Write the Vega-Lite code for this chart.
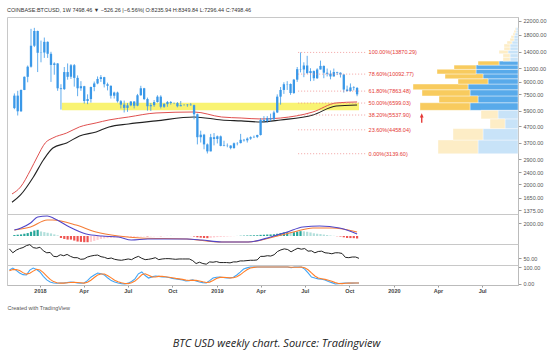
{
  "$schema": "https://vega.github.io/schema/vega-lite/v6.json",
  "padding": {"left": 6, "top": 7, "right": 4, "bottom": 4},
  "background": "white",
  "spacing": 0,
  "bounds": "flush",
  "config": {
    "view": {"stroke": "#c8c8c8", "strokeWidth": 1},
    "font": "Liberation Sans",
    "axis": {"labelFont": "Liberation Sans", "labelFontSize": 5.5, "labelColor": "#555", "tickColor": "#999", "tickSize": 3, "domainColor": "#bbb", "grid": false, "labelPadding": 2}
  },
  "title": {"text": "BTC USD weekly chart. Source: Tradingview", "orient": "bottom", "anchor": "middle", "font": "Open Sans", "fontSize": 11, "fontStyle": "italic", "fontWeight": "normal", "color": "#222", "offset": 26},
  "datasets": {
    "w": [
      {"d":"2017-10-30","o":6130,"h":7600,"l":6030,"c":7360,"mh":150,"mk":"g","rsi":78,"k":82,"dk":78},
      {"d":"2017-11-06","o":7360,"h":7900,"l":5500,"c":5850,"mh":200,"mk":"g","rsi":66,"k":94,"dk":85},
      {"d":"2017-11-13","o":5850,"h":8050,"l":5800,"c":8000,"mh":250,"mk":"g","rsi":74,"k":80,"dk":85},
      {"d":"2017-11-20","o":8000,"h":9750,"l":7980,"c":9700,"mh":350,"mk":"g","rsi":79,"k":65,"dk":80},
      {"d":"2017-11-27","o":9700,"h":11450,"l":8950,"c":11250,"mh":450,"mk":"g","rsi":82,"k":55,"dk":67},
      {"d":"2017-12-04","o":11250,"h":19600,"l":11100,"c":15300,"mh":650,"mk":"g","rsi":88,"k":53,"dk":58},
      {"d":"2017-12-11","o":15300,"h":19891,"l":15000,"c":19000,"mh":850,"mk":"g","rsi":91,"k":82,"dk":63},
      {"d":"2017-12-18","o":19000,"h":19100,"l":10400,"c":13800,"mh":950,"mk":"g","rsi":82,"k":94,"dk":76},
      {"d":"2017-12-25","o":13800,"h":16500,"l":12000,"c":13850,"mh":700,"mk":"lg","rsi":80,"k":85,"dk":87},
      {"d":"2018-01-01","o":13850,"h":17250,"l":12800,"c":16200,"mh":600,"mk":"lg","rsi":83,"k":71,"dk":83},
      {"d":"2018-01-08","o":16200,"h":16300,"l":12800,"c":13600,"mh":500,"mk":"lg","rsi":72,"k":45,"dk":67},
      {"d":"2018-01-15","o":13600,"h":14000,"l":9000,"c":11550,"mh":400,"mk":"lg","rsi":66,"k":24,"dk":47},
      {"d":"2018-01-22","o":11550,"h":12000,"l":10000,"c":11800,"mh":250,"mk":"lg","rsi":67,"k":12,"dk":27},
      {"d":"2018-01-29","o":11800,"h":11850,"l":7900,"c":8200,"mh":100,"mk":"lg","rsi":55,"k":6,"dk":14},
      {"d":"2018-02-05","o":8200,"h":8700,"l":6000,"c":8100,"mh":-300,"mk":"r","rsi":54,"k":4,"dk":7},
      {"d":"2018-02-12","o":8100,"h":11200,"l":8000,"c":10400,"mh":-450,"mk":"r","rsi":60,"k":6,"dk":5},
      {"d":"2018-02-19","o":10400,"h":11800,"l":9300,"c":9700,"mh":-550,"mk":"r","rsi":57,"k":6,"dk":5},
      {"d":"2018-02-26","o":9700,"h":11700,"l":9400,"c":11500,"mh":-550,"mk":"r","rsi":61,"k":8,"dk":7},
      {"d":"2018-03-05","o":11500,"h":11700,"l":8400,"c":9550,"mh":-700,"mk":"r","rsi":55,"k":12,"dk":9},
      {"d":"2018-03-12","o":9550,"h":9900,"l":7300,"c":8200,"mh":-850,"mk":"r","rsi":51,"k":10,"dk":10},
      {"d":"2018-03-19","o":8200,"h":9100,"l":7900,"c":8450,"mh":-900,"mk":"r","rsi":51,"k":6,"dk":9},
      {"d":"2018-03-26","o":8450,"h":8500,"l":6550,"c":6800,"mh":-950,"mk":"r","rsi":46,"k":4,"dk":7},
      {"d":"2018-04-02","o":6800,"h":7500,"l":6500,"c":7000,"mh":-950,"mk":"r","rsi":47,"k":6,"dk":5},
      {"d":"2018-04-09","o":7000,"h":8400,"l":6650,"c":8350,"mh":-900,"mk":"lr","rsi":53,"k":20,"dk":10},
      {"d":"2018-04-16","o":8350,"h":9050,"l":7850,"c":8800,"mh":-750,"mk":"lr","rsi":56,"k":40,"dk":22},
      {"d":"2018-04-23","o":8800,"h":9750,"l":8700,"c":9400,"mh":-600,"mk":"lr","rsi":58,"k":53,"dk":38},
      {"d":"2018-04-30","o":9400,"h":9950,"l":9000,"c":9650,"mh":-450,"mk":"lr","rsi":59,"k":65,"dk":53},
      {"d":"2018-05-07","o":9650,"h":9700,"l":8300,"c":8700,"mh":-380,"mk":"lr","rsi":54,"k":60,"dk":59},
      {"d":"2018-05-14","o":8700,"h":8900,"l":7950,"c":8500,"mh":-320,"mk":"lr","rsi":52,"k":53,"dk":59},
      {"d":"2018-05-21","o":8500,"h":8550,"l":7050,"c":7350,"mh":-300,"mk":"lr","rsi":48,"k":35,"dk":49},
      {"d":"2018-05-28","o":7350,"h":7800,"l":7050,"c":7700,"mh":-260,"mk":"lr","rsi":50,"k":20,"dk":36},
      {"d":"2018-06-04","o":7700,"h":7800,"l":6650,"c":6780,"mh":-240,"mk":"lr","rsi":46,"k":12,"dk":22},
      {"d":"2018-06-11","o":6780,"h":6900,"l":6100,"c":6450,"mh":-220,"mk":"lr","rsi":44,"k":6,"dk":13},
      {"d":"2018-06-18","o":6450,"h":6850,"l":5750,"c":6150,"mh":-200,"mk":"lr","rsi":43,"k":2,"dk":7},
      {"d":"2018-06-25","o":6150,"h":6600,"l":5800,"c":6380,"mh":-170,"mk":"lr","rsi":45,"k":0,"dk":3},
      {"d":"2018-07-02","o":6380,"h":6800,"l":6300,"c":6750,"mh":-140,"mk":"lr","rsi":47,"k":5,"dk":2},
      {"d":"2018-07-09","o":6750,"h":6780,"l":6100,"c":6350,"mh":-120,"mk":"lr","rsi":45,"k":15,"dk":7},
      {"d":"2018-07-16","o":6350,"h":7550,"l":6300,"c":7400,"mh":-90,"mk":"lr","rsi":51,"k":30,"dk":17},
      {"d":"2018-07-23","o":7400,"h":8500,"l":7350,"c":8200,"mh":-60,"mk":"lr","rsi":55,"k":60,"dk":35},
      {"d":"2018-07-30","o":8200,"h":8250,"l":6900,"c":7000,"mh":-50,"mk":"lr","rsi":49,"k":71,"dk":54},
      {"d":"2018-08-06","o":7000,"h":7150,"l":5900,"c":6300,"mh":-60,"mk":"r","rsi":45,"k":50,"dk":60},
      {"d":"2018-08-13","o":6300,"h":6600,"l":5880,"c":6400,"mh":-50,"mk":"lr","rsi":46,"k":35,"dk":52},
      {"d":"2018-08-20","o":6400,"h":6900,"l":6250,"c":6700,"mh":-40,"mk":"lr","rsi":48,"k":42,"dk":42},
      {"d":"2018-08-27","o":6700,"h":7400,"l":6650,"c":7250,"mh":-30,"mk":"lr","rsi":51,"k":47,"dk":41},
      {"d":"2018-09-03","o":7250,"h":7400,"l":6100,"c":6250,"mh":-30,"mk":"r","rsi":45,"k":45,"dk":45},
      {"d":"2018-09-10","o":6250,"h":6600,"l":6150,"c":6500,"mh":-20,"mk":"lr","rsi":47,"k":42,"dk":45},
      {"d":"2018-09-17","o":6500,"h":6800,"l":6250,"c":6700,"mh":10,"mk":"g","rsi":48,"k":41,"dk":43},
      {"d":"2018-09-24","o":6700,"h":6800,"l":6450,"c":6600,"mh":15,"mk":"g","rsi":48,"k":38,"dk":40},
      {"d":"2018-10-01","o":6600,"h":6650,"l":6500,"c":6600,"mh":15,"mk":"lg","rsi":47,"k":33,"dk":37},
      {"d":"2018-10-08","o":6600,"h":6700,"l":6200,"c":6300,"mh":10,"mk":"lg","rsi":46,"k":29,"dk":33},
      {"d":"2018-10-15","o":6300,"h":6800,"l":6300,"c":6400,"mh":8,"mk":"lg","rsi":47,"k":27,"dk":30},
      {"d":"2018-10-22","o":6400,"h":6500,"l":6350,"c":6400,"mh":5,"mk":"lg","rsi":47,"k":24,"dk":27},
      {"d":"2018-10-29","o":6400,"h":6500,"l":6250,"c":6450,"mh":3,"mk":"lg","rsi":47,"k":18,"dk":23},
      {"d":"2018-11-05","o":6450,"h":6600,"l":6350,"c":6400,"mh":-10,"mk":"r","rsi":47,"k":20,"dk":21},
      {"d":"2018-11-12","o":6400,"h":6450,"l":5200,"c":5600,"mh":-80,"mk":"r","rsi":42,"k":24,"dk":21},
      {"d":"2018-11-19","o":5600,"h":5650,"l":3600,"c":4000,"mh":-200,"mk":"r","rsi":33,"k":18,"dk":21},
      {"d":"2018-11-26","o":4000,"h":4400,"l":3700,"c":4150,"mh":-260,"mk":"r","rsi":37,"k":12,"dk":18},
      {"d":"2018-12-03","o":4150,"h":4200,"l":3350,"c":3600,"mh":-300,"mk":"r","rsi":33,"k":8,"dk":13},
      {"d":"2018-12-10","o":3600,"h":3650,"l":3150,"c":3250,"mh":-330,"mk":"r","rsi":31,"k":6,"dk":9},
      {"d":"2018-12-17","o":3250,"h":4200,"l":3250,"c":4000,"mh":-280,"mk":"lr","rsi":38,"k":20,"dk":11},
      {"d":"2018-12-24","o":4000,"h":4250,"l":3550,"c":3900,"mh":-220,"mk":"lr","rsi":37,"k":35,"dk":20},
      {"d":"2018-12-31","o":3900,"h":4100,"l":3650,"c":4050,"mh":-170,"mk":"lr","rsi":39,"k":40,"dk":32},
      {"d":"2019-01-07","o":4050,"h":4100,"l":3500,"c":3520,"mh":-140,"mk":"lr","rsi":36,"k":41,"dk":39},
      {"d":"2019-01-14","o":3520,"h":3800,"l":3500,"c":3550,"mh":-110,"mk":"lr","rsi":36,"k":38,"dk":40},
      {"d":"2019-01-21","o":3550,"h":3650,"l":3450,"c":3540,"mh":-80,"mk":"lr","rsi":36,"k":36,"dk":38},
      {"d":"2019-01-28","o":3540,"h":3550,"l":3350,"c":3410,"mh":-50,"mk":"lr","rsi":35,"k":35,"dk":36},
      {"d":"2019-02-04","o":3410,"h":3700,"l":3380,"c":3660,"mh":-20,"mk":"lr","rsi":38,"k":40,"dk":37},
      {"d":"2019-02-11","o":3660,"h":3720,"l":3550,"c":3670,"mh":10,"mk":"g","rsi":38,"k":53,"dk":43},
      {"d":"2019-02-18","o":3670,"h":4200,"l":3650,"c":3850,"mh":40,"mk":"g","rsi":41,"k":70,"dk":54},
      {"d":"2019-02-25","o":3850,"h":3900,"l":3750,"c":3820,"mh":60,"mk":"g","rsi":41,"k":88,"dk":70},
      {"d":"2019-03-04","o":3820,"h":3990,"l":3700,"c":3920,"mh":80,"mk":"g","rsi":42,"k":95,"dk":84},
      {"d":"2019-03-11","o":3920,"h":4050,"l":3850,"c":4000,"mh":100,"mk":"g","rsi":43,"k":100,"dk":94},
      {"d":"2019-03-18","o":4000,"h":4100,"l":3950,"c":4020,"mh":110,"mk":"g","rsi":43,"k":100,"dk":98},
      {"d":"2019-03-25","o":4020,"h":4150,"l":3950,"c":4130,"mh":120,"mk":"g","rsi":44,"k":100,"dk":100},
      {"d":"2019-04-01","o":4130,"h":5300,"l":4100,"c":5150,"mh":180,"mk":"g","rsi":55,"k":100,"dk":100},
      {"d":"2019-04-08","o":5150,"h":5450,"l":4950,"c":5080,"mh":210,"mk":"g","rsi":55,"k":100,"dk":100},
      {"d":"2019-04-15","o":5080,"h":5450,"l":4950,"c":5300,"mh":230,"mk":"g","rsi":57,"k":100,"dk":100},
      {"d":"2019-04-22","o":5300,"h":5650,"l":5050,"c":5200,"mh":240,"mk":"g","rsi":56,"k":100,"dk":100},
      {"d":"2019-04-29","o":5200,"h":5900,"l":5150,"c":5750,"mh":270,"mk":"g","rsi":60,"k":100,"dk":100},
      {"d":"2019-05-06","o":5750,"h":7500,"l":5700,"c":7250,"mh":350,"mk":"g","rsi":70,"k":100,"dk":100},
      {"d":"2019-05-13","o":7250,"h":8350,"l":6450,"c":8000,"mh":450,"mk":"g","rsi":75,"k":100,"dk":100},
      {"d":"2019-05-20","o":8000,"h":8950,"l":7550,"c":8700,"mh":550,"mk":"g","rsi":78,"k":100,"dk":100},
      {"d":"2019-05-27","o":8700,"h":9100,"l":8000,"c":8730,"mh":600,"mk":"g","rsi":76,"k":100,"dk":100},
      {"d":"2019-06-03","o":8730,"h":8800,"l":7450,"c":7650,"mh":550,"mk":"lg","rsi":69,"k":96,"dk":99},
      {"d":"2019-06-10","o":7650,"h":9400,"l":7550,"c":9300,"mh":580,"mk":"g","rsi":75,"k":100,"dk":99},
      {"d":"2019-06-17","o":9300,"h":11200,"l":9000,"c":10850,"mh":680,"mk":"g","rsi":80,"k":100,"dk":99},
      {"d":"2019-06-24","o":10850,"h":13870,"l":10350,"c":10800,"mh":750,"mk":"g","rsi":77,"k":100,"dk":100},
      {"d":"2019-07-01","o":10800,"h":12000,"l":9650,"c":11450,"mh":720,"mk":"lg","rsi":79,"k":88,"dk":96},
      {"d":"2019-07-08","o":11450,"h":13200,"l":10100,"c":10250,"mh":650,"mk":"lg","rsi":71,"k":65,"dk":84},
      {"d":"2019-07-15","o":10250,"h":11000,"l":9100,"c":10550,"mh":550,"mk":"lg","rsi":72,"k":41,"dk":65},
      {"d":"2019-07-22","o":10550,"h":10650,"l":9150,"c":9500,"mh":420,"mk":"lg","rsi":66,"k":35,"dk":47},
      {"d":"2019-07-29","o":9500,"h":11000,"l":9400,"c":10800,"mh":350,"mk":"lg","rsi":70,"k":30,"dk":35},
      {"d":"2019-08-05","o":10800,"h":12300,"l":10800,"c":11380,"mh":300,"mk":"lg","rsi":71,"k":28,"dk":31},
      {"d":"2019-08-12","o":11380,"h":11450,"l":9500,"c":10300,"mh":220,"mk":"lg","rsi":66,"k":24,"dk":27},
      {"d":"2019-08-19","o":10300,"h":10950,"l":9750,"c":10150,"mh":150,"mk":"lg","rsi":65,"k":15,"dk":22},
      {"d":"2019-08-26","o":10150,"h":10650,"l":9350,"c":9750,"mh":80,"mk":"lg","rsi":63,"k":8,"dk":16},
      {"d":"2019-09-02","o":9750,"h":10950,"l":9750,"c":10400,"mh":30,"mk":"lg","rsi":66,"k":0,"dk":8},
      {"d":"2019-09-09","o":10400,"h":10450,"l":9950,"c":10300,"mh":-30,"mk":"r","rsi":66,"k":2,"dk":3},
      {"d":"2019-09-16","o":10300,"h":10350,"l":9600,"c":10030,"mh":-80,"mk":"r","rsi":64,"k":4,"dk":2},
      {"d":"2019-09-23","o":10030,"h":10050,"l":7700,"c":8050,"mh":-200,"mk":"r","rsi":52,"k":6,"dk":4},
      {"d":"2019-09-30","o":8050,"h":8520,"l":7800,"c":7880,"mh":-300,"mk":"r","rsi":51,"k":6,"dk":5},
      {"d":"2019-10-07","o":7880,"h":8800,"l":7800,"c":8300,"mh":-320,"mk":"r","rsi":53,"k":5,"dk":6},
      {"d":"2019-10-14","o":8300,"h":8450,"l":7950,"c":8235.94,"mh":-330,"mk":"r","rsi":53,"k":6,"dk":6},
      {"d":"2019-10-21","o":8235.94,"h":8349.84,"l":7296.44,"c":7498.46,"mh":-380,"mk":"r","rsi":49,"k":6,"dk":6}
    ],
    "ma": [
      {"d":"2017-10-25","s":"r","v":1740},{"d":"2017-11-12","s":"r","v":1928},{"d":"2017-12-03","s":"r","v":2474},{"d":"2017-12-17","s":"r","v":2993},
      {"d":"2018-01-03","s":"r","v":3679},{"d":"2018-01-19","s":"r","v":3957},{"d":"2018-02-17","s":"r","v":4255},{"d":"2018-03-16","s":"r","v":4651},
      {"d":"2018-04-20","s":"r","v":4933},{"d":"2018-05-17","s":"r","v":5152},{"d":"2018-06-27","s":"r","v":5379},{"d":"2018-08-24","s":"r","v":5707},
      {"d":"2018-11-12","s":"r","v":5790},{"d":"2019-01-09","s":"r","v":5379},{"d":"2019-02-19","s":"r","v":5301},{"d":"2019-04-02","s":"r","v":5226},
      {"d":"2019-05-13","s":"r","v":5301},{"d":"2019-07-20","s":"r","v":5790},{"d":"2019-09-07","s":"r","v":6610},{"d":"2019-10-21","s":"r","v":6707},
      {"d":"2017-10-25","s":"b","v":1540},{"d":"2017-11-12","s":"b","v":1715},{"d":"2017-12-09","s":"b","v":2231},{"d":"2017-12-30","s":"b","v":2865},
      {"d":"2018-01-19","s":"b","v":3416},{"d":"2018-02-17","s":"b","v":3679},{"d":"2018-03-16","s":"b","v":4074},{"d":"2018-04-20","s":"b","v":4322},
      {"d":"2018-05-17","s":"b","v":4651},{"d":"2018-06-27","s":"b","v":4857},{"d":"2018-08-24","s":"b","v":5081},{"d":"2018-11-12","s":"b","v":5379},
      {"d":"2019-01-09","s":"b","v":5152},{"d":"2019-02-19","s":"b","v":5081},{"d":"2019-04-02","s":"b","v":5000},{"d":"2019-05-13","s":"b","v":5152},
      {"d":"2019-07-20","s":"b","v":5541},{"d":"2019-09-07","s":"b","v":6322},{"d":"2019-10-21","s":"b","v":6414}
    ],
    "macd": [
      {"d":"2017-10-30","s":"m","v":924},{"d":"2017-11-13","s":"m","v":1231},{"d":"2017-12-03","s":"m","v":2000},{"d":"2017-12-18","s":"m","v":2923},
      {"d":"2018-01-07","s":"m","v":3077},{"d":"2018-01-28","s":"m","v":2462},{"d":"2018-02-23","s":"m","v":1385},{"d":"2018-03-30","s":"m","v":308},
      {"d":"2018-05-02","s":"m","v":0},{"d":"2018-06-06","s":"m","v":-154},{"d":"2018-07-03","s":"m","v":-616},{"d":"2018-08-07","s":"m","v":-462},
      {"d":"2018-10-28","s":"m","v":-462},{"d":"2018-11-28","s":"m","v":-616},{"d":"2019-01-09","s":"m","v":-924},{"d":"2019-03-06","s":"m","v":-924},
      {"d":"2019-04-22","s":"m","v":-154},{"d":"2019-05-27","s":"m","v":616},{"d":"2019-06-29","s":"m","v":1385},{"d":"2019-08-03","s":"m","v":1540},
      {"d":"2019-09-14","s":"m","v":1231},{"d":"2019-10-21","s":"m","v":308},
      {"d":"2017-10-30","s":"s","v":924},{"d":"2017-12-03","s":"s","v":1385},{"d":"2018-01-07","s":"s","v":2462},{"d":"2018-01-19","s":"s","v":2462},
      {"d":"2018-03-09","s":"s","v":1692},{"d":"2018-04-20","s":"s","v":616},{"d":"2018-06-06","s":"s","v":0},{"d":"2018-07-23","s":"s","v":-308},
      {"d":"2018-10-28","s":"s","v":-462},{"d":"2019-01-09","s":"s","v":-924},{"d":"2019-03-06","s":"s","v":-924},{"d":"2019-04-28","s":"s","v":-154},
      {"d":"2019-06-09","s":"s","v":616},{"d":"2019-07-20","s":"s","v":1231},{"d":"2019-08-30","s":"s","v":1231},{"d":"2019-10-21","s":"s","v":616}
    ],
    "fib": [
      {"lbl":"100.00%(13870.29)","p":13870.29,"d0":"2019-06-19","d1":"2019-11-10"},
      {"lbl":"78.60%(10092.77)","p":10092.77,"d0":"2019-06-19","d1":"2019-11-10"},
      {"lbl":"61.80%(7863.48)","p":7863.48,"d0":"2019-06-19","d1":"2019-11-10"},
      {"lbl":"50.00%(6599.03)","p":6599.03,"d0":"2019-06-19","d1":"2019-11-10"},
      {"lbl":"38.20%(5537.90)","p":5537.90,"d0":"2019-06-19","d1":"2019-11-10"},
      {"lbl":"23.60%(4458.04)","p":4458.04,"d0":"2019-06-19","d1":"2019-11-10"},
      {"lbl":"0.00%(3139.60)","p":3139.60,"d0":"2019-06-19","d1":"2019-11-10"}
    ],
    "band": [{"d0":"2018-02-07","d1":"2019-10-25","lo":5950,"hi":6620}],
    "arrow": [{"d":"2020-03-05","p":5300}],
    "vol": [
      {"lo":3140,"hi":3838,"up":40,"tot":80,"va":"out"},
      {"lo":3838,"hi":4536,"up":35,"tot":65,"va":"out"},
      {"lo":4536,"hi":5234,"up":13,"tot":28,"va":"out"},
      {"lo":5234,"hi":5932,"up":20,"tot":37,"va":"out"},
      {"lo":5932,"hi":6630,"up":48,"tot":98,"va":"in"},
      {"lo":6630,"hi":7328,"up":40,"tot":79,"va":"in"},
      {"lo":7328,"hi":8026,"up":48,"tot":96,"va":"in"},
      {"lo":8026,"hi":8724,"up":50,"tot":105,"va":"in"},
      {"lo":8724,"hi":9422,"up":30,"tot":60,"va":"in"},
      {"lo":9422,"hi":10120,"up":35,"tot":73,"va":"in"},
      {"lo":10120,"hi":10818,"up":42,"tot":81,"va":"in"},
      {"lo":10818,"hi":11516,"up":42,"tot":64,"va":"in"},
      {"lo":11516,"hi":12214,"up":19,"tot":40,"va":"in"},
      {"lo":12214,"hi":12912,"up":8,"tot":15,"va":"out"},
      {"lo":12912,"hi":13610,"up":8,"tot":15,"va":"out"},
      {"lo":13610,"hi":14308,"up":10,"tot":19,"va":"out"},
      {"lo":14308,"hi":15006,"up":8,"tot":14,"va":"out"},
      {"lo":15006,"hi":15704,"up":8,"tot":14,"va":"out"},
      {"lo":15704,"hi":16402,"up":6,"tot":11,"va":"out"},
      {"lo":16402,"hi":17100,"up":4,"tot":8,"va":"out"},
      {"lo":17100,"hi":17798,"up":4,"tot":7,"va":"out"},
      {"lo":17798,"hi":18496,"up":3,"tot":5,"va":"out"},
      {"lo":18496,"hi":19194,"up":2,"tot":4,"va":"out"},
      {"lo":19194,"hi":19892,"up":2,"tot":3,"va":"out"}
    ]
  },
  "vconcat": [
    {
      "width": 511,
      "height": 197,
      "title": {"text": "COINBASE:BTCUSD, 1W  7498.46 ▼ −526.26 |−6.56%|  O:8235.94  H:8349.84  L:7296.44  C:7498.46", "anchor": "start", "fontSize": 5.5, "fontWeight": "normal", "color": "#333", "offset": 4, "font": "Liberation Sans"},
      "layer": [
        {
          "layer": [
            {
              "data": {"name": "band"},
              "mark": {"type": "rect", "color": "#f9f26a", "opacity": 0.95},
              "encoding": {
                "x": {"field": "d0", "type": "temporal", "scale": {"domain": [{"year": 2017, "month": 10, "date": 25}, {"year": 2020, "month": 9, "date": 13}]}, "axis": null},
                "x2": {"field": "d1"},
                "y": {"field": "lo", "type": "quantitative", "scale": {"type": "log", "domain": [1297, 23320], "nice": false, "zero": false}, "title": null,
                      "axis": {"orient": "right", "values": [1375, 1650, 2000, 2400, 2900, 3700, 4700, 5900, 7500, 9000, 11000, 14000, 18000, 22000], "format": ".2f", "title": null}},
                "y2": {"field": "hi"}
              }
            },
            {
              "data": {"name": "ma"},
              "transform": [{"filter": "datum.s == 'r'"}],
              "mark": {"type": "line", "color": "#e0504f", "strokeWidth": 1, "interpolate": "monotone", "clip": true},
              "encoding": {
                "x": {"field": "d", "type": "temporal", "axis": null},
                "y": {"field": "v", "type": "quantitative", "title": null,
                      "axis": {"orient": "right", "values": [1375, 1650, 2000, 2400, 2900, 3700, 4700, 5900, 7500, 9000, 11000, 14000, 18000, 22000], "format": ".2f", "title": null}}
              }
            },
            {
              "data": {"name": "ma"},
              "transform": [{"filter": "datum.s == 'b'"}],
              "mark": {"type": "line", "color": "#222222", "strokeWidth": 1.1, "interpolate": "monotone", "clip": true},
              "encoding": {
                "x": {"field": "d", "type": "temporal", "axis": null},
                "y": {"field": "v", "type": "quantitative", "title": null,
                      "axis": {"orient": "right", "values": [1375, 1650, 2000, 2400, 2900, 3700, 4700, 5900, 7500, 9000, 11000, 14000, 18000, 22000], "format": ".2f", "title": null}}
              }
            },
            {
              "data": {"name": "w"},
              "mark": {"type": "rule", "color": "#3a98e8", "strokeWidth": 0.8},
              "encoding": {
                "x": {"field": "d", "type": "temporal", "axis": null},
                "y": {"field": "l", "type": "quantitative", "title": null,
                      "axis": {"orient": "right", "values": [1375, 1650, 2000, 2400, 2900, 3700, 4700, 5900, 7500, 9000, 11000, 14000, 18000, 22000], "format": ".2f", "title": null}},
                "y2": {"field": "h"}
              }
            },
            {
              "data": {"name": "w"},
              "mark": {"type": "bar", "color": "#3a98e8", "size": 2.3},
              "encoding": {
                "x": {"field": "d", "type": "temporal", "axis": null},
                "y": {"field": "o", "type": "quantitative", "title": null,
                      "axis": {"orient": "right", "values": [1375, 1650, 2000, 2400, 2900, 3700, 4700, 5900, 7500, 9000, 11000, 14000, 18000, 22000], "format": ".2f", "title": null}},
                "y2": {"field": "c"}
              }
            },
            {
              "data": {"name": "fib"},
              "mark": {"type": "rule", "color": "#ef8a8a", "strokeWidth": 0.8, "strokeDash": [1, 2]},
              "encoding": {
                "x": {"field": "d0", "type": "temporal", "axis": null},
                "x2": {"field": "d1"},
                "y": {"field": "p", "type": "quantitative", "title": null,
                      "axis": {"orient": "right", "values": [1375, 1650, 2000, 2400, 2900, 3700, 4700, 5900, 7500, 9000, 11000, 14000, 18000, 22000], "format": ".2f", "title": null}}
              }
            },
            {
              "data": {"name": "fib"},
              "mark": {"type": "text", "color": "#e53935", "fontSize": 5.5, "align": "left", "baseline": "middle", "dx": 2, "font": "Liberation Sans"},
              "encoding": {
                "x": {"field": "d1", "type": "temporal", "axis": null},
                "y": {"field": "p", "type": "quantitative", "title": null,
                      "axis": {"orient": "right", "values": [1375, 1650, 2000, 2400, 2900, 3700, 4700, 5900, 7500, 9000, 11000, 14000, 18000, 22000], "format": ".2f", "title": null}},
                "text": {"field": "lbl"}
              }
            },
            {
              "data": {"name": "arrow"},
              "mark": {"type": "point", "shape": "arrow", "filled": true, "color": "#e53935", "size": 90, "opacity": 1},
              "encoding": {
                "x": {"field": "d", "type": "temporal", "axis": null},
                "y": {"field": "p", "type": "quantitative", "title": null,
                      "axis": {"orient": "right", "values": [1375, 1650, 2000, 2400, 2900, 3700, 4700, 5900, 7500, 9000, 11000, 14000, 18000, 22000], "format": ".2f", "title": null}}
              }
            }
          ]
        },
        {
          "data": {"name": "vol"},
          "layer": [
            {
              "transform": [{"filter": "datum.va == 'in'"}],
              "mark": {"type": "rect", "color": "#58aaea", "stroke": "white", "strokeWidth": 0.4},
              "encoding": {
                "x": {"field": "up", "type": "quantitative", "scale": {"domain": [0, 511], "reverse": true, "nice": false}, "axis": null},
                "x2": {"datum": 0},
                "y": {"field": "lo", "type": "quantitative", "title": null,
                      "axis": {"orient": "right", "values": [1375, 1650, 2000, 2400, 2900, 3700, 4700, 5900, 7500, 9000, 11000, 14000, 18000, 22000], "format": ".2f", "title": null}},
                "y2": {"field": "hi"}
              }
            },
            {
              "transform": [{"filter": "datum.va == 'in'"}],
              "mark": {"type": "rect", "color": "#f8cb5e", "stroke": "white", "strokeWidth": 0.4},
              "encoding": {
                "x": {"field": "up", "type": "quantitative", "axis": null},
                "x2": {"field": "tot"},
                "y": {"field": "lo", "type": "quantitative", "title": null,
                      "axis": {"orient": "right", "values": [1375, 1650, 2000, 2400, 2900, 3700, 4700, 5900, 7500, 9000, 11000, 14000, 18000, 22000], "format": ".2f", "title": null}},
                "y2": {"field": "hi"}
              }
            },
            {
              "transform": [{"filter": "datum.va == 'out'"}],
              "mark": {"type": "rect", "color": "#c8e3f8", "stroke": "white", "strokeWidth": 0.4},
              "encoding": {
                "x": {"field": "up", "type": "quantitative", "axis": null},
                "x2": {"datum": 0},
                "y": {"field": "lo", "type": "quantitative", "title": null,
                      "axis": {"orient": "right", "values": [1375, 1650, 2000, 2400, 2900, 3700, 4700, 5900, 7500, 9000, 11000, 14000, 18000, 22000], "format": ".2f", "title": null}},
                "y2": {"field": "hi"}
              }
            },
            {
              "transform": [{"filter": "datum.va == 'out'"}],
              "mark": {"type": "rect", "color": "#fdedc6", "stroke": "white", "strokeWidth": 0.4},
              "encoding": {
                "x": {"field": "up", "type": "quantitative", "axis": null},
                "x2": {"field": "tot"},
                "y": {"field": "lo", "type": "quantitative", "title": null,
                      "axis": {"orient": "right", "values": [1375, 1650, 2000, 2400, 2900, 3700, 4700, 5900, 7500, 9000, 11000, 14000, 18000, 22000], "format": ".2f", "title": null}},
                "y2": {"field": "hi"}
              }
            }
          ]
        }
      ],
      "resolve": {"scale": {"x": "independent"}}
    },
    {
      "width": 511,
      "height": 30,
      "layer": [
        {
          "data": {"name": "w"},
          "mark": {"type": "bar", "size": 2.2},
          "encoding": {
            "x": {"field": "d", "type": "temporal", "scale": {"domain": [{"year": 2017, "month": 10, "date": 25}, {"year": 2020, "month": 9, "date": 13}]}, "axis": null},
            "y": {"field": "mh", "type": "quantitative", "stack": null, "scale": {"domain": [-1230, 3390], "nice": false, "zero": false}, "title": null,
                  "axis": {"orient": "right", "values": [2000], "format": ".2f", "title": null}},
            "color": {"field": "mk", "type": "nominal", "legend": null, "scale": {"domain": ["g", "lg", "r", "lr"], "range": ["#26a69a", "#b2dfdb", "#ef5350", "#ffcdd2"]}}
          }
        },
        {
          "data": {"name": "macd"},
          "transform": [{"filter": "datum.s == 's'"}],
          "mark": {"type": "line", "color": "#f57c36", "strokeWidth": 1.1, "interpolate": "monotone"},
          "encoding": {
            "x": {"field": "d", "type": "temporal", "axis": null},
            "y": {"field": "v", "type": "quantitative", "title": null, "axis": {"orient": "right", "values": [2000], "format": ".2f", "title": null}}
          }
        },
        {
          "data": {"name": "macd"},
          "transform": [{"filter": "datum.s == 'm'"}],
          "mark": {"type": "line", "color": "#5046c8", "strokeWidth": 1.1, "interpolate": "monotone"},
          "encoding": {
            "x": {"field": "d", "type": "temporal", "axis": null},
            "y": {"field": "v", "type": "quantitative", "title": null, "axis": {"orient": "right", "values": [2000], "format": ".2f", "title": null}}
          }
        }
      ]
    },
    {
      "width": 511,
      "height": 21,
      "data": {"name": "w"},
      "mark": {"type": "line", "color": "#222222", "strokeWidth": 1},
      "encoding": {
        "x": {"field": "d", "type": "temporal", "scale": {"domain": [{"year": 2017, "month": 10, "date": 25}, {"year": 2020, "month": 9, "date": 13}]}, "axis": null},
        "y": {"field": "rsi", "type": "quantitative", "scale": {"domain": [28.5, 93], "nice": false, "zero": false}, "title": null,
              "axis": {"orient": "right", "values": [50], "format": ".2f", "title": null}}
      }
    },
    {
      "width": 511,
      "height": 20,
      "data": {"name": "w"},
      "layer": [
        {
          "mark": {"type": "line", "color": "#42a5f5", "strokeWidth": 1.1},
          "encoding": {
            "x": {"field": "d", "type": "temporal", "scale": {"domain": [{"year": 2017, "month": 10, "date": 25}, {"year": 2020, "month": 9, "date": 13}]},
                  "axis": {"orient": "bottom", "values": [{"year": 2018, "month": 1, "date": 1}, {"year": 2018, "month": 4, "date": 1}, {"year": 2018, "month": 7, "date": 1}, {"year": 2018, "month": 10, "date": 1}, {"year": 2019, "month": 1, "date": 1}, {"year": 2019, "month": 4, "date": 1}, {"year": 2019, "month": 7, "date": 1}, {"year": 2019, "month": 10, "date": 1}, {"year": 2020, "month": 1, "date": 1}, {"year": 2020, "month": 4, "date": 1}, {"year": 2020, "month": 7, "date": 1}],
                           "labelExpr": "month(datum.value) == 0 ? timeFormat(datum.value, '%Y') : timeFormat(datum.value, '%b')",
                           "labelColor": "#444", "labelFontWeight": "bold", "tickSize": 2, "labelPadding": 1,
                           "title": "Created with TradingView", "titleAnchor": "start", "titleAlign": "left", "titleFontSize": 5.5, "titleFontWeight": "normal", "titleColor": "#555", "titlePadding": 12, "titleFont": "Liberation Sans"}},
            "y": {"field": "k", "type": "quantitative", "scale": {"domain": [-6, 112], "nice": false, "zero": false}, "title": null,
                  "axis": {"orient": "right", "values": [0, 100], "format": ".2f", "title": null}}
          }
        },
        {
          "mark": {"type": "line", "color": "#ff7f2a", "strokeWidth": 1.1},
          "encoding": {
            "x": {"field": "d", "type": "temporal"},
            "y": {"field": "dk", "type": "quantitative"}
          }
        }
      ]
    }
  ]
}
